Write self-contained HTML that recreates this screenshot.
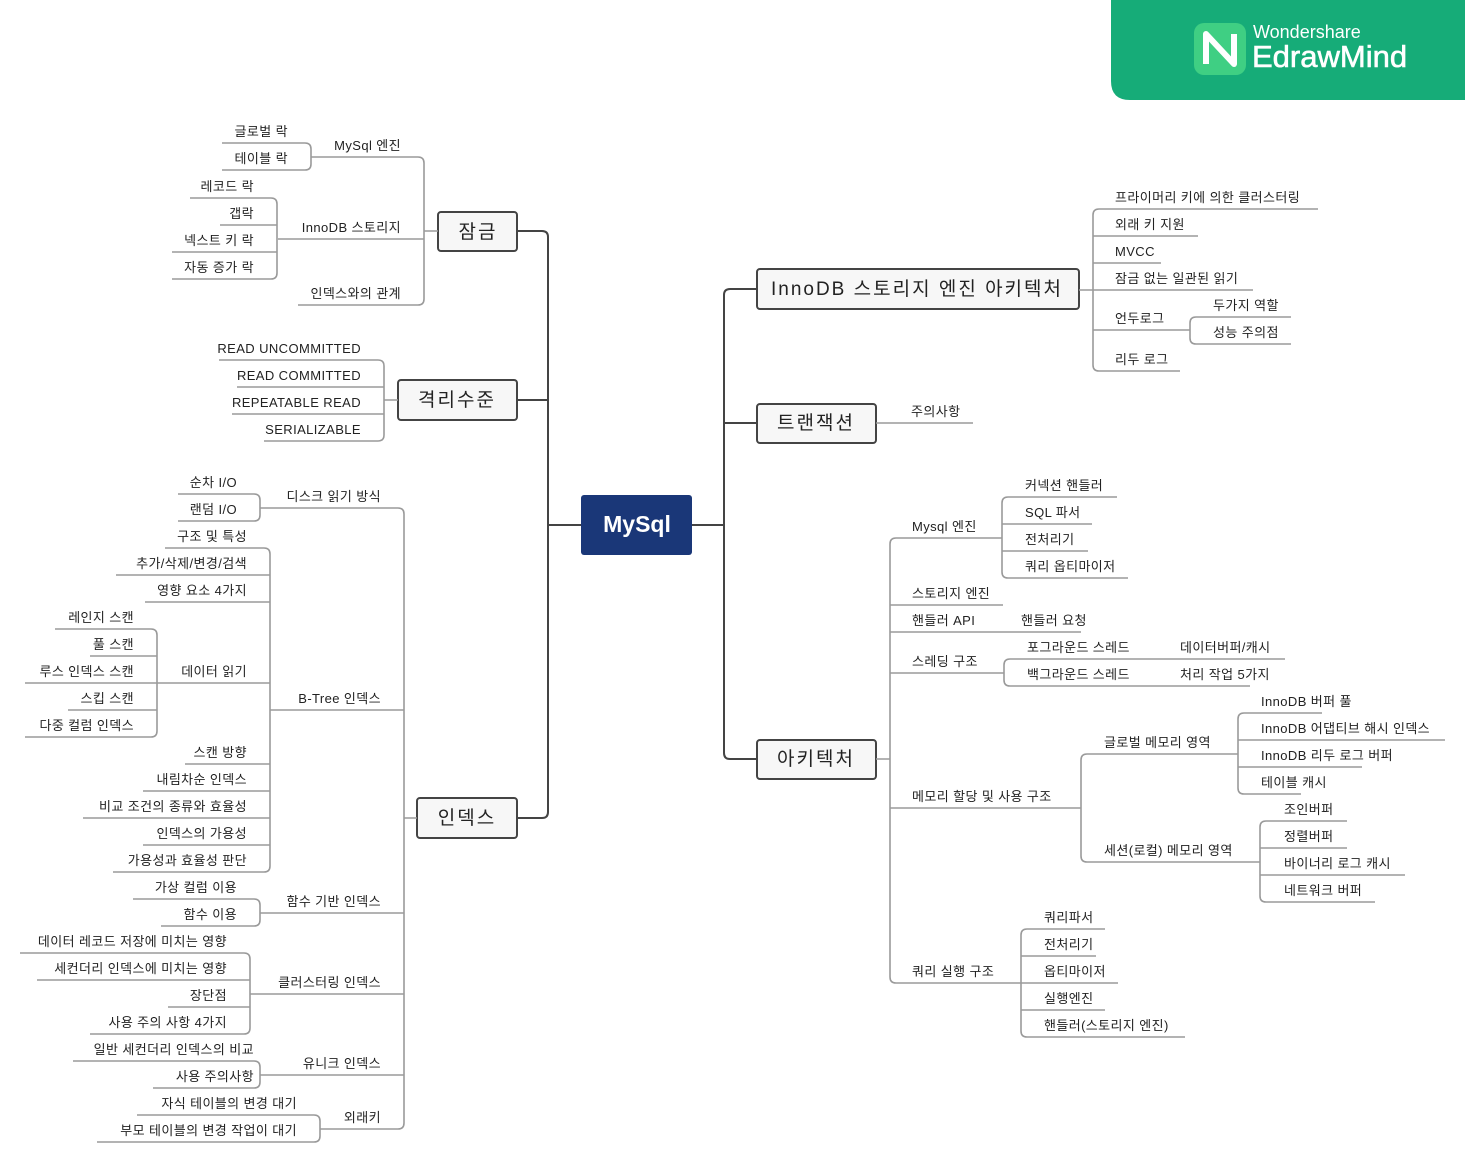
<!DOCTYPE html>
<html><head><meta charset="utf-8"><style>
html,body{margin:0;padding:0;background:#fff;}
svg{display:block;}
text{font-family:"Liberation Sans","Noto Sans CJK KR",sans-serif;font-size:13px;fill:#222;letter-spacing:0.4px;}
.l{stroke:#9a9a9a;stroke-width:1.6;fill:none;}
.t{stroke:#444;stroke-width:2;fill:none;}
.b{fill:#f7f7f7;stroke:#444;stroke-width:2;}
.bt{font-size:19px;fill:#222;text-anchor:middle;letter-spacing:2px;}
.e{text-anchor:end;}
</style></head><body>
<svg width="1465" height="1163" viewBox="0 0 1465 1163" xmlns="http://www.w3.org/2000/svg">
<!-- logo -->
<path d="M1111 0 H1465 V100 H1130 Q1111 100 1111 81 Z" fill="#16ac78"/>
<rect x="1194" y="23" width="52" height="52" rx="10" fill="#3fcf83"/>
<path d="M1206 64 V34 L1234 64 V34" stroke="#fff" stroke-width="6" fill="none" stroke-linejoin="round"/>
<text x="1253" y="38" style="font-size:18px;fill:#fff;letter-spacing:0">Wondershare</text>
<text x="1252" y="67" style="font-size:31px;fill:#fff;letter-spacing:0;stroke:#fff;stroke-width:0.6">EdrawMind</text>

<!-- main trunks -->
<path class="t" d="M517 231 H542 Q548 231 548 237 V812 Q548 818 542 818 H517 M517 400 H548 M548 525 H581 M692 525 H724 M757 289 H730 Q724 289 724 295 V753 Q724 759 730 759 H757 M724 423 H757"/>
<rect class="b" x="438" y="212" width="79" height="39" rx="3"/><text class="bt" x="478" y="238">잠금</text>
<rect class="b" x="398" y="380" width="119" height="40" rx="3"/><text class="bt" x="457" y="406">격리수준</text>
<rect class="b" x="417" y="798" width="100" height="40" rx="3"/><text class="bt" x="467" y="824">인덱스</text>
<rect x="581" y="495" width="111" height="60" rx="3" fill="#1a3778"/><text x="637" y="532" style="font-size:23px;fill:#fff;font-weight:bold;text-anchor:middle;letter-spacing:0">MySql</text>
<rect class="b" x="757" y="269" width="322" height="40" rx="3"/><text class="bt" x="917" y="295">InnoDB 스토리지 엔진 아키텍처</text>
<rect class="b" x="757" y="404" width="119" height="39" rx="3"/><text class="bt" x="816" y="429">트랜잭션</text>
<rect class="b" x="757" y="740" width="119" height="39" rx="3"/><text class="bt" x="816" y="765">아키텍처</text>

<!-- 잠금 -->
<path class="l" d="M438 231 H424 M311 157 H418 Q424 157 424 163 V299 Q424 305 418 305 H298 M278 239 H424 M222 143 H305 Q311 143 311 149 V164 Q311 170 305 170 H222 M190 198 H271 Q277 198 277 204 V273 Q277 279 271 279 H172 M220 225 H277 M172 252 H277"/>
<text class="e" x="401" y="150">MySql 엔진</text>
<text class="e" x="401" y="232">InnoDB 스토리지</text>
<text class="e" x="401" y="298">인덱스와의 관계</text>
<text class="e" x="288" y="136">글로벌 락</text>
<text class="e" x="288" y="163">테이블 락</text>
<text class="e" x="254" y="191">레코드 락</text>
<text class="e" x="254" y="218">갭락</text>
<text class="e" x="254" y="245">넥스트 키 락</text>
<text class="e" x="254" y="272">자동 증가 락</text>

<!-- 격리수준 -->
<path class="l" d="M398 400 H384 M219 360 H378 Q384 360 384 366 V435 Q384 441 378 441 H264 M237 387 H384 M232 414 H384"/>
<text class="e" x="361" y="353">READ UNCOMMITTED</text>
<text class="e" x="361" y="380">READ COMMITTED</text>
<text class="e" x="361" y="407">REPEATABLE READ</text>
<text class="e" x="361" y="434">SERIALIZABLE</text>

<!-- 인덱스 -->
<path class="l" d="M417 818 H404 M260 508 H398 Q404 508 404 514 V1123 Q404 1129 398 1129 H320 M270 710 H404 M260 913 H404 M250 994 H404 M260 1075 H404
M178 494 H254 Q260 494 260 500 V515 Q260 521 254 521 H178
M165 548 H264 Q270 548 270 554 V866 Q270 872 264 872 H113 M116 575 H270 M145 602 H270 M25 683 H270 M185 764 H270 M143 791 H270 M83 818 H270 M143 845 H270
M55 629 H151 Q157 629 157 635 V731 Q157 737 151 737 H25 M90 656 H157 M68 710 H157
M133 899 H254 Q260 899 260 905 V920 Q260 926 254 926 H161
M20 953 H244 Q250 953 250 959 V1028 Q250 1034 244 1034 H90 M37 980 H250 M168 1007 H250
M73 1061 H254 Q260 1061 260 1067 V1082 Q260 1088 254 1088 H153
M137 1115 H314 Q320 1115 320 1121 V1136 Q320 1142 314 1142 H97"/>
<text class="e" x="381" y="501">디스크 읽기 방식</text>
<text class="e" x="381" y="703">B-Tree 인덱스</text>
<text class="e" x="381" y="906">함수 기반 인덱스</text>
<text class="e" x="381" y="987">클러스터링 인덱스</text>
<text class="e" x="381" y="1068">유니크 인덱스</text>
<text class="e" x="381" y="1122">외래키</text>
<text class="e" x="237" y="487">순차 I/O</text>
<text class="e" x="237" y="514">랜덤 I/O</text>
<text class="e" x="247" y="541">구조 및 특성</text>
<text class="e" x="247" y="568">추가/삭제/변경/검색</text>
<text class="e" x="247" y="595">영향 요소 4가지</text>
<text class="e" x="247" y="676">데이터 읽기</text>
<text class="e" x="247" y="757">스캔 방향</text>
<text class="e" x="247" y="784">내림차순 인덱스</text>
<text class="e" x="247" y="811">비교 조건의 종류와 효율성</text>
<text class="e" x="247" y="838">인덱스의 가용성</text>
<text class="e" x="247" y="865">가용성과 효율성 판단</text>
<text class="e" x="134" y="622">레인지 스캔</text>
<text class="e" x="134" y="649">풀 스캔</text>
<text class="e" x="134" y="676">루스 인덱스 스캔</text>
<text class="e" x="134" y="703">스킵 스캔</text>
<text class="e" x="134" y="730">다중 컬럼 인덱스</text>
<text class="e" x="237" y="892">가상 컬럼 이용</text>
<text class="e" x="237" y="919">함수 이용</text>
<text class="e" x="227" y="946">데이터 레코드 저장에 미치는 영향</text>
<text class="e" x="227" y="973">세컨더리 인덱스에 미치는 영향</text>
<text class="e" x="227" y="1000">장단점</text>
<text class="e" x="227" y="1027">사용 주의 사항 4가지</text>
<text class="e" x="254" y="1054">일반 세컨더리 인덱스의 비교</text>
<text class="e" x="254" y="1081">사용 주의사항</text>
<text class="e" x="297" y="1108">자식 테이블의 변경 대기</text>
<text class="e" x="297" y="1135">부모 테이블의 변경 작업이 대기</text>

<!-- InnoDB -->
<path class="l" d="M1079 290 H1093 M1318 209 H1099 Q1093 209 1093 215 V365 Q1093 371 1099 371 H1180 M1093 236 H1198 M1093 263 H1161 M1093 290 H1253 M1093 330 H1190
M1291 317 H1196 Q1190 317 1190 323 V338 Q1190 344 1196 344 H1291"/>
<text x="1115" y="202">프라이머리 키에 의한 클러스터링</text>
<text x="1115" y="229">외래 키 지원</text>
<text x="1115" y="256">MVCC</text>
<text x="1115" y="283">잠금 없는 일관된 읽기</text>
<text x="1115" y="323">언두로그</text>
<text x="1115" y="364">리두 로그</text>
<text x="1213" y="310">두가지 역할</text>
<text x="1213" y="337">성능 주의점</text>

<!-- 트랜잭션 -->
<path class="l" d="M876 423 H973"/>
<text x="911" y="416">주의사항</text>

<!-- 아키텍처 -->
<path class="l" d="M876 759 H890 M1002 538 H896 Q890 538 890 544 V977 Q890 983 896 983 H1021 M890 605 H1003 M890 632 H1081 M890 673 H1004 M890 808 H1081
M1117 497 H1008 Q1002 497 1002 503 V572 Q1002 578 1008 578 H1128 M1002 524 H1092 M1002 551 H1088
M1285 659 H1010 Q1004 659 1004 665 V680 Q1004 686 1010 686 H1250
M1238 754 H1087 Q1081 754 1081 760 V856 Q1081 862 1087 862 H1260
M1322 713 H1244 Q1238 713 1238 719 V788 Q1238 794 1244 794 H1301 M1238 740 H1445 M1238 767 H1362
M1347 821 H1266 Q1260 821 1260 827 V896 Q1260 902 1266 902 H1375 M1260 848 H1347 M1260 875 H1405
M1105 929 H1027 Q1021 929 1021 935 V1031 Q1021 1037 1027 1037 H1185 M1021 956 H1096 M1021 983 H1118 M1021 1010 H1105"/>
<text x="912" y="531">Mysql 엔진</text>
<text x="912" y="598">스토리지 엔진</text>
<text x="912" y="625">핸들러 API</text>
<text x="1021" y="625">핸들러 요청</text>
<text x="912" y="666">스레딩 구조</text>
<text x="912" y="801">메모리 할당 및 사용 구조</text>
<text x="912" y="976">쿼리 실행 구조</text>
<text x="1025" y="490">커넥션 핸들러</text>
<text x="1025" y="517">SQL 파서</text>
<text x="1025" y="544">전처리기</text>
<text x="1025" y="571">쿼리 옵티마이저</text>
<text x="1027" y="652">포그라운드 스레드</text>
<text x="1180" y="652">데이터버퍼/캐시</text>
<text x="1027" y="679">백그라운드 스레드</text>
<text x="1180" y="679">처리 작업 5가지</text>
<text x="1104" y="747">글로벌 메모리 영역</text>
<text x="1104" y="855">세션(로컬) 메모리 영역</text>
<text x="1261" y="706">InnoDB 버퍼 풀</text>
<text x="1261" y="733">InnoDB 어댑티브 해시 인덱스</text>
<text x="1261" y="760">InnoDB 리두 로그 버퍼</text>
<text x="1261" y="787">테이블 캐시</text>
<text x="1284" y="814">조인버퍼</text>
<text x="1284" y="841">정렬버퍼</text>
<text x="1284" y="868">바이너리 로그 캐시</text>
<text x="1284" y="895">네트워크 버퍼</text>
<text x="1044" y="922">쿼리파서</text>
<text x="1044" y="949">전처리기</text>
<text x="1044" y="976">옵티마이저</text>
<text x="1044" y="1003">실행엔진</text>
<text x="1044" y="1030">핸들러(스토리지 엔진)</text>
</svg>
</body></html>
